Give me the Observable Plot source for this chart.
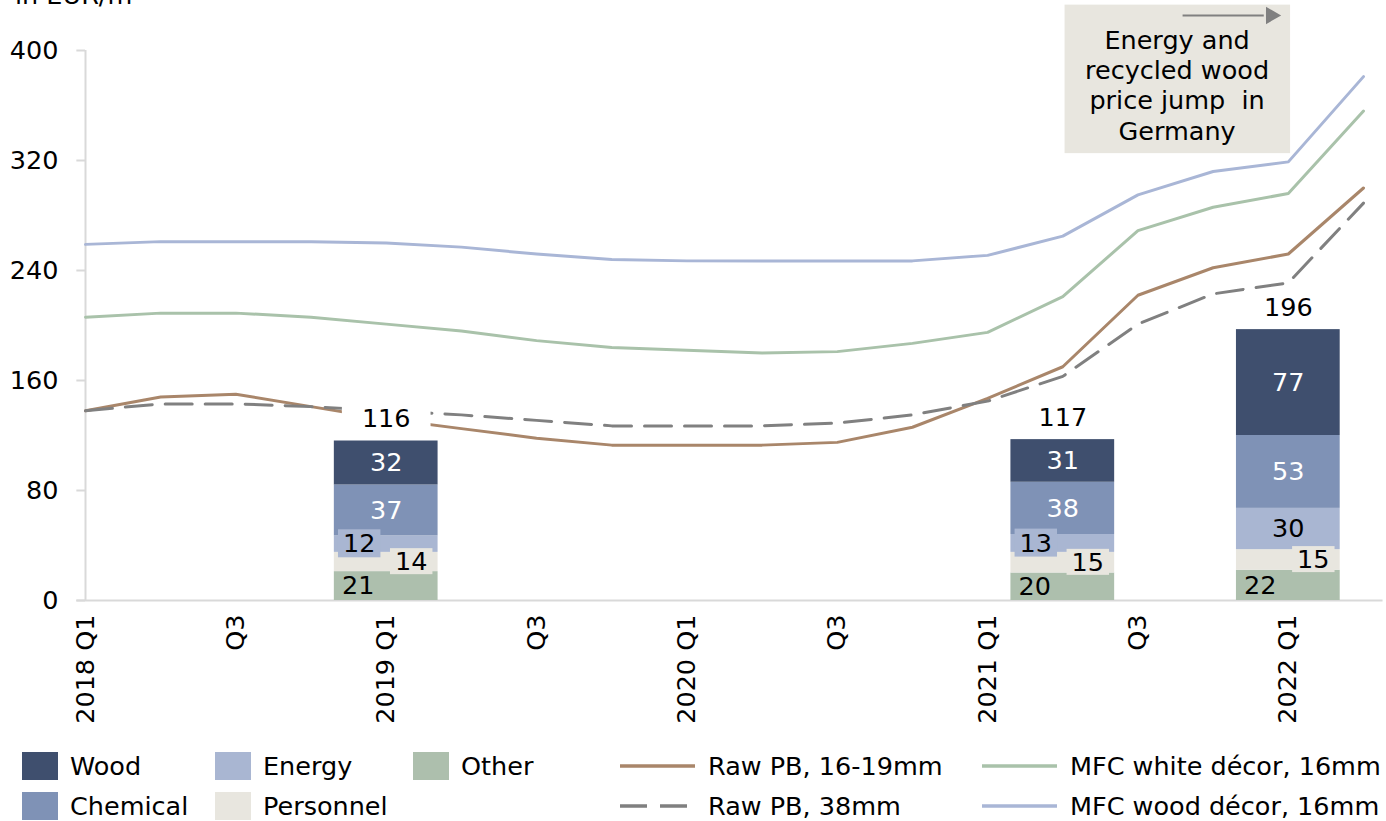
<!DOCTYPE html>
<html><head><meta charset="utf-8">
<script src="https://cdn.jsdelivr.net/npm/d3@7"></script>
<script src="https://cdn.jsdelivr.net/npm/@observablehq/plot@0.6"></script>
<style>
body{margin:0;background:#fff;font-family:"DejaVu Sans",sans-serif;color:#000;}
#wrap{position:relative;width:1386px;height:821px;overflow:hidden;background:#fff;}
#chart{position:absolute;left:0;top:0;}
#ytitle{position:absolute;left:15px;top:-17px;font-size:25.5px;line-height:25.5px;white-space:nowrap;}
.lg{position:absolute;font-size:25.5px;line-height:28px;white-space:nowrap;}
.sw{position:absolute;width:36px;height:28px;}
</style></head><body>
<div id="wrap"><div id="chart"></div><div id="ytitle">in EUR/m³</div><div id="legend"></div></div>
<script>
// ---- data ----
const quarters = ["2018 Q1","2018 Q2","2018 Q3","2018 Q4","2019 Q1","2019 Q2","2019 Q3","2019 Q4",
  "2020 Q1","2020 Q2","2020 Q3","2020 Q4","2021 Q1","2021 Q2","2021 Q3","2021 Q4","2022 Q1","2022 Q2"];
const tickQuarters = ["2018 Q1","2018 Q3","2019 Q1","2019 Q3","2020 Q1","2020 Q3","2021 Q1","2021 Q3","2022 Q1"];
const tickLabels = ["2018 Q1","Q3","2019 Q1","Q3","2020 Q1","Q3","2021 Q1","Q3","2022 Q1"];
const yTicks = [0,80,160,240,320,400];

const lineSeries = ["Raw PB, 16-19mm","Raw PB, 38mm","MFC white décor, 16mm","MFC wood décor, 16mm"];
const rawPB1619 = [138,148,150,141,132,125,118,113,113,113,115,126,147,170,222,242,252,300];
const rawPB38   = [138,143,143,141,138,135,131,127,127,127,129,135,145,163,201,223,231,289];
const mfcWhite  = [206,209,209,206,201,196,189,184,182,180,181,187,195,221,269,286,296,356];
const mfcWood   = [259,261,261,261,260,257,252,248,247,247,247,247,251,265,295,312,319,381];
const lineColors = ["#a9866a","#808080","#a9c2aa","#a9b6d6"];

const barQuarters = ["2019 Q1","2021 Q2","2022 Q1"];
const categories = ["Other","Personnel","Energy","Chemical","Wood"];
const other     = [21,20,22];
const personnel = [14,15,15];
const energy    = [12,13,30];
const chemical  = [37,38,53];
const wood      = [32,31,77];
const totals    = [116,117,196];
const catColors = ["#adbfad","#e8e6df","#a9b6d2","#7f92b6","#3f4f6e"];

const annotationLines = ["Energy and","recycled wood","price jump  in","Germany"];

// ---- derived tables ----
const lineValues = [rawPB1619, rawPB38, mfcWhite, mfcWood];
const lineRows = lineSeries.flatMap((s, k) => quarters.map((q, i) => ({series: s, i, v: lineValues[k][i]})));
const catValues = [other, personnel, energy, chemical, wood];
const barRows = [];
barQuarters.forEach((q, b) => {
  let acc = 0;
  const xi = quarters.indexOf(q);
  categories.forEach((c, k) => {
    const v = catValues[k][b];
    barRows.push({cat: c, xi, v, y1: acc, y2: acc + v, mid: acc + v / 2});
    acc += v;
  });
});
const totalRows = barQuarters.map((q, b) => ({xi: quarters.indexOf(q), top: barRows.filter(d => d.xi === quarters.indexOf(q)).reduce((s, d) => s + d.v, 0), label: totals[b]}));
const tickIdx = tickQuarters.map(q => quarters.indexOf(q));
const halfW = 0.69;

const byCat = c => barRows.filter(d => d.cat === c);

// near-black marker colours used to find the boxed labels after rendering
const TOTAL_INK = "#000001", ENERGY_INK = "#000002", PERS_INK = "#000003";

const chart = Plot.plot({
  width: 1386, height: 740,
  marginTop: 50, marginBottom: 140, marginLeft: 85, marginRight: 23,
  style: {fontFamily: '"DejaVu Sans", sans-serif', fontSize: "25.5px", color: "#000", background: "transparent", overflow: "visible"},
  x: {type: "linear", domain: [0, quarters.length - 1], ticks: tickIdx,
      tickFormat: i => tickLabels[tickIdx.indexOf(i)], tickRotate: -90, tickSize: 0, tickPadding: 14, label: null},
  y: {domain: [0, 400], ticks: yTicks, tickSize: 0, tickPadding: 27, label: null},
  color: {domain: categories, range: catColors},
  marks: [
    // axes lines / ticks
    Plot.ruleX([0], {y1: 0, y2: 400, stroke: "#d9d9d9", strokeWidth: 2}),
    Plot.ruleY(yTicks, {x1: -0.115, x2: 0, stroke: "#d9d9d9", strokeWidth: 2}),
    Plot.ruleY([0], {x1: -0.115, x2: 17.26, stroke: "#d9d9d9", strokeWidth: 2}),
    // lines
    ...lineSeries.map((s, k) => Plot.line(lineRows.filter(d => d.series === s), {
      x: "i", y: "v", stroke: lineColors[k], strokeWidth: 3,
      strokeDasharray: s === "Raw PB, 38mm" ? "27,13" : null
    })),
    // total labels (with white box)
    Plot.text(totalRows, {x: "xi", y: "top", text: "label", dy: -22, fill: TOTAL_INK}),
    // stacked bars
    Plot.rect(barRows, {x1: d => d.xi - halfW, x2: d => d.xi + halfW, y1: "y1", y2: "y2", fill: "cat"}),
    // segment labels
    Plot.text(byCat("Wood"), {x: "xi", y: "mid", text: "v", fill: "#fff"}),
    Plot.text(byCat("Chemical"), {x: "xi", y: "mid", text: "v", fill: "#fff"}),
    Plot.text(byCat("Energy").filter(d => d.v >= 20), {x: "xi", y: "mid", text: "v", fill: "#000"}),
    Plot.text(byCat("Other"), {x: "xi", y: "mid", text: "v", fill: "#000", dx: -28}),
    Plot.text(byCat("Energy").filter(d => d.v < 20), {x: "xi", y: "mid", text: "v", fill: ENERGY_INK, dx: -27}),
    Plot.text(byCat("Personnel"), {x: "xi", y: "mid", text: "v", fill: PERS_INK, dx: 25}),
    // annotation
    Plot.rect([annotationLines], {x1: 13.03, x2: 16.03, y1: 325, y2: 433, fill: "#e8e6df"}),
    Plot.text(annotationLines, {x: 14.52, y: (d, i) => 407.3 - i * 22.1, text: d => d, fill: "#000"}),
    Plot.ruleY([annotationLines], {x1: 14.6, x2: 15.68, y: 425.5, stroke: "#808080", strokeWidth: 2}),
    Plot.dot([annotationLines], {x: 15.77, y: 425.5, symbol: "triangle", rotate: 90, r: 6.5, fill: "#808080", stroke: "none"})
  ]
});
document.getElementById("chart").append(chart);

// label boxes (Excel-style filled data labels)
function addBoxes(ink, fill, padX, padTop, padBottom) {
  const texts = [];
  chart.querySelectorAll("text").forEach(t => {
    let el = t, hit = false;
    while (el && el !== chart) {
      const f = el.getAttribute && el.getAttribute("fill");
      if (f) { hit = f.toLowerCase() === ink; break; }
      el = el.parentNode;
    }
    if (hit) texts.push(t);
  });
  texts.forEach(t => {
    const b = t.getBBox();
    const r = document.createElementNS("http://www.w3.org/2000/svg", "rect");
    r.setAttribute("x", b.x - padX);
    r.setAttribute("y", b.y - padTop);
    r.setAttribute("width", b.width + 2 * padX);
    r.setAttribute("height", b.height + padTop + padBottom);
    r.setAttribute("fill", fill);
    const tr = t.getAttribute("transform");
    if (tr) r.setAttribute("transform", tr);
    t.parentNode.insertBefore(r, t);
  });
}
addBoxes(TOTAL_INK, "#fff", 20, 2, 2);
addBoxes(ENERGY_INK, catColors[2], 5, -1, -1);
addBoxes(PERS_INK, catColors[1], 5, -2, -2);

// ---- legend ----
const legend = document.getElementById("legend");
const rowY = [752, 792];
const barLegend = [
  {name: "Wood", col: 0, row: 0}, {name: "Energy", col: 1, row: 0}, {name: "Other", col: 2, row: 0},
  {name: "Chemical", col: 0, row: 1}, {name: "Personnel", col: 1, row: 1}
];
const barColX = [22, 215, 413];
barLegend.forEach(it => {
  const sw = document.createElement("div");
  sw.className = "sw";
  sw.style.left = barColX[it.col] + "px";
  sw.style.top = rowY[it.row] + "px";
  sw.style.background = catColors[categories.indexOf(it.name)];
  legend.append(sw);
  const t = document.createElement("div");
  t.className = "lg";
  t.style.left = (barColX[it.col] + 48) + "px";
  t.style.top = rowY[it.row] + "px";
  t.textContent = it.name;
  legend.append(t);
});
const lineColX = [620, 982];
const lineLegendPos = [{col: 0, row: 0}, {col: 0, row: 1}, {col: 1, row: 0}, {col: 1, row: 1}];
lineSeries.forEach((s, k) => {
  const p = lineLegendPos[k];
  const svg = d3.create("svg").attr("width", 76).attr("height", 28)
    .style("position", "absolute").style("left", lineColX[p.col] + "px").style("top", rowY[p.row] + "px");
  svg.append("line").attr("x1", 0).attr("x2", 75).attr("y1", 14).attr("y2", 14)
    .attr("stroke", lineColors[k]).attr("stroke-width", 3.5)
    .attr("stroke-dasharray", s === "Raw PB, 38mm" ? "27,13" : null);
  legend.append(svg.node());
  const t = document.createElement("div");
  t.className = "lg";
  t.style.left = (lineColX[p.col] + 88) + "px";
  t.style.top = rowY[p.row] + "px";
  t.textContent = s;
  legend.append(t);
});
</script>
</body></html>
